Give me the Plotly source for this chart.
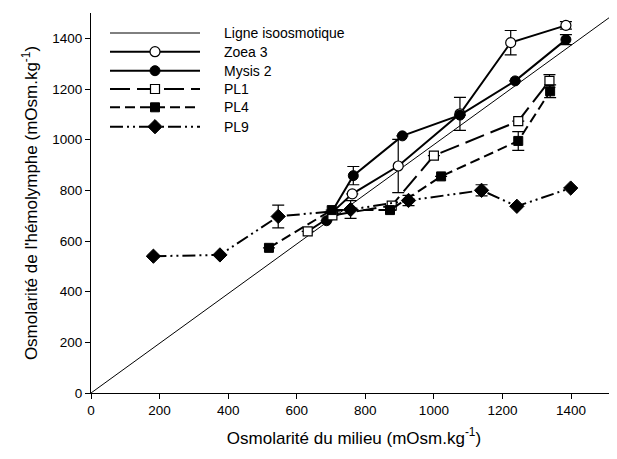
import plotly.graph_objects as go

# ---- data ----
iso_x = [0, 1530]
iso_y = [0, 1500]

zoea_x = [705, 762, 896, 1076, 1224, 1385]
zoea_y = [715, 786, 896, 1102, 1383, 1451]
zoea_err = [None, None, 105, 65, 48, 15]

mysis_x = [687, 765, 908, 1076, 1237, 1385]
mysis_y = [680, 858, 1015, 1097, 1232, 1395]
mysis_err = [None, 36, None, None, None, 20]

pl1_x = [632, 704, 877, 1000, 1246, 1337]
pl1_y = [638, 701, 740, 937, 1073, 1232]
pl1_err = [None, None, None, None, None, 25]

pl4_x = [519, 702, 872, 1021, 1246, 1339]
pl4_y = [573, 722, 722, 855, 995, 1191]
pl4_err = [None, None, None, None, 37, 25]

pl9_x = [182, 376, 546, 757, 926, 1139, 1242, 1399]
pl9_y = [540, 545, 697, 724, 760, 800, 737, 809]
pl9_err = [None, None, 45, 35, 20, 22, None, None]

legend_labels = ["Ligne isoosmotique", "Zoea 3", "Mysis 2", "PL1", "PL4", "PL9"]
tick_vals = [0, 200, 400, 600, 800, 1000, 1200, 1400]

FONT = "Liberation Sans, Arial, sans-serif"

# the page body has an 8px margin; compensate so the plot sits where the reference is
OFF = 8
FIG_W, FIG_H = 617 - OFF, 459 - OFF
M_L, M_T, M_B, M_R = 91 - OFF, 13 - OFF, 66, 0

styles = [
    dict(line=dict(color="black", width=1), marker=None),
    dict(line=dict(color="black", width=2),
         marker=dict(symbol="circle", size=10, color="white", line=dict(color="black", width=1.2))),
    dict(line=dict(color="black", width=2),
         marker=dict(symbol="circle", size=10, color="black", line=dict(color="black", width=1))),
    dict(line=dict(color="black", width=2, dash="20px,7px"),
         marker=dict(symbol="square", size=9, color="white", line=dict(color="black", width=1.2))),
    dict(line=dict(color="black", width=2, dash="10px,5px"),
         marker=dict(symbol="square", size=9, color="black", line=dict(color="black", width=1))),
    dict(line=dict(color="black", width=2, dash="13px,4px,2px,4px,2px,4px"),
         marker=dict(symbol="diamond", size=11, color="black", line=dict(color="black", width=1))),
]

series = [
    (iso_x, iso_y, None),
    (zoea_x, zoea_y, zoea_err),
    (mysis_x, mysis_y, mysis_err),
    (pl1_x, pl1_y, pl1_err),
    (pl4_x, pl4_y, pl4_err),
    (pl9_x, pl9_y, pl9_err),
]

fig = go.Figure()
for (xs, ys, err), st, name in zip(series, styles, legend_labels):
    kw = dict(x=xs, y=ys, name=name, showlegend=False, line=st["line"], cliponaxis=True)
    if st["marker"] is None:
        kw["mode"] = "lines"
    else:
        kw["mode"] = "lines+markers"
        kw["marker"] = st["marker"]
    if err is not None:
        kw["error_y"] = dict(type="data", array=err, symmetric=True, visible=True,
                             color="black", thickness=1.2, width=6)
    fig.add_trace(go.Scatter(**kw))

# ---- custom legend drawn on an overlay axis measured in plot pixels ----
PLOT_W = FIG_W - M_L - M_R
PLOT_H = FIG_H - M_T - M_B
leg_rows_y = [360, 341.3, 322.3, 304, 285.7, 266.3]
leg_x0, leg_x1, leg_xm, leg_tx = 19, 109, 64, 131
for i, (st, name) in enumerate(zip(styles, legend_labels)):
    yy = leg_rows_y[i]
    fig.add_trace(go.Scatter(x=[leg_x0, leg_x1], y=[yy, yy], mode="lines", line=st["line"],
                             xaxis="x2", yaxis="y2", showlegend=False, hoverinfo="skip"))
    if st["marker"] is not None:
        fig.add_trace(go.Scatter(x=[leg_xm], y=[yy], mode="markers", marker=st["marker"],
                                 xaxis="x2", yaxis="y2", showlegend=False, hoverinfo="skip"))
    fig.add_annotation(x=leg_tx, y=yy, xref="x2", yref="y2", text=name, showarrow=False,
                       xanchor="left", yanchor="middle", font=dict(family=FONT, size=14, color="black"))

axis_common = dict(showgrid=False, zeroline=False, showline=True, linecolor="black", linewidth=1,
                   ticks="outside", ticklen=5, tickcolor="black", tickwidth=1,
                   tickfont=dict(family=FONT, size=13.5, color="black"),
                   tickvals=tick_vals, automargin=False)

fig.update_layout(
    width=FIG_W, height=FIG_H,
    margin=dict(l=M_L, r=M_R, t=M_T, b=M_B, pad=0),
    paper_bgcolor="white", plot_bgcolor="white",
    font=dict(family=FONT, color="black"),
    xaxis=dict(range=[0, 1534], title=dict(text="Osmolarité du milieu (mOsm.kg<sup>-1</sup>)",
                                           font=dict(family=FONT, size=17, color="black"), standoff=14),
               **axis_common),
    yaxis=dict(range=[0, 1500], title=dict(text="Osmolarité de l'hémolymphe (mOsm.kg<sup>-1</sup>)",
                                           font=dict(family=FONT, size=17, color="black"), standoff=10),
               **axis_common),
    xaxis2=dict(range=[0, PLOT_W], overlaying="x", visible=False, anchor="y2"),
    yaxis2=dict(range=[0, PLOT_H], overlaying="y", visible=False, anchor="x2"),
)

fig.write_html("out.html")
